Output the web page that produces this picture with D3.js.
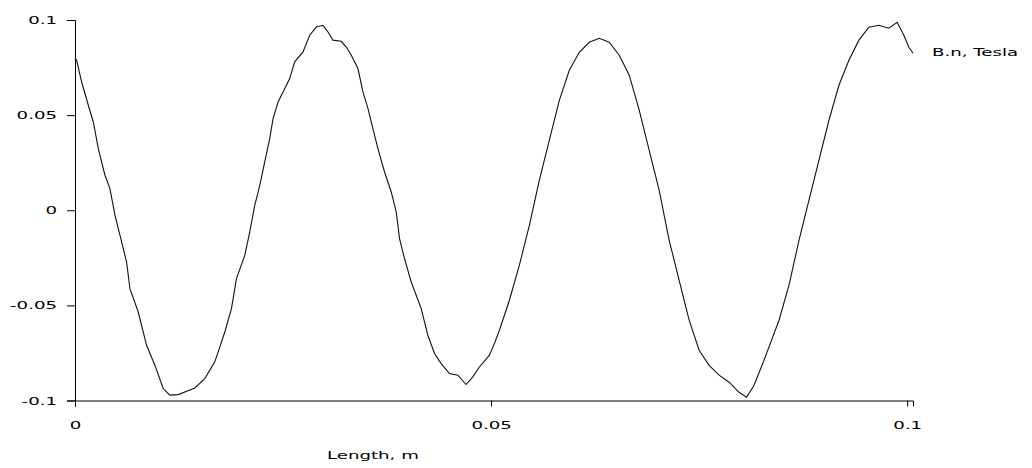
<!DOCTYPE html>
<html>
<head>
<meta charset="utf-8">
<script src="https://cdn.jsdelivr.net/npm/d3@7"></script>
<style>
  body { margin: 0; background: #fff; }
  text { font-family: "DejaVu Sans", sans-serif; font-size: 11px; fill: #000; }
</style>
</head>
<body>
<div id="chart"></div>
<script>
// Position along the part, m
const lengthM = [
  0.0000, 0.0002, 0.0008, 0.0016, 0.0022, 0.0028, 0.0036, 0.0042, 0.0048, 0.0054,
  0.0062, 0.0066, 0.0076, 0.0086, 0.0096, 0.0106, 0.0114, 0.0124, 0.0132, 0.0144,
  0.0156, 0.0168, 0.0180, 0.0188, 0.0194, 0.0204, 0.0210, 0.0216, 0.0222, 0.0228,
  0.0234, 0.0238, 0.0244, 0.0250, 0.0258, 0.0264, 0.0274, 0.0282, 0.0290, 0.0298,
  0.0304, 0.0310, 0.0320, 0.0326, 0.0332, 0.0340, 0.0346, 0.0352, 0.0358, 0.0364,
  0.0372, 0.0380, 0.0386, 0.0390, 0.0396, 0.0404, 0.0416, 0.0424, 0.0432, 0.0440,
  0.0450, 0.0460, 0.0470, 0.0478, 0.0486, 0.0498, 0.0504, 0.0510, 0.0522, 0.0534,
  0.0546, 0.0558, 0.0570, 0.0582, 0.0594, 0.0606, 0.0618, 0.0630, 0.0642, 0.0654,
  0.0666, 0.0678, 0.0690, 0.0702, 0.0714, 0.0726, 0.0738, 0.0750, 0.0762, 0.0774,
  0.0786, 0.0798, 0.0807, 0.0816, 0.0828, 0.0846, 0.0858, 0.0870, 0.0882, 0.0894,
  0.0906, 0.0918, 0.0930, 0.0942, 0.0954, 0.0966, 0.0978, 0.0988, 0.0996, 0.1002,
  0.1007
];

// Normal flux density B.n, Tesla
const bNormal = [
  0.0800, 0.0788, 0.0674, 0.0552, 0.0464, 0.0324, 0.0184, 0.0114, -0.0026, -0.0131,
  -0.0272, -0.0412, -0.0535, -0.0710, -0.0815, -0.0937, -0.0972, -0.0969, -0.0955, -0.0934,
  -0.0885, -0.0797, -0.0640, -0.0517, -0.0359, -0.0237, -0.0114, 0.0026, 0.0131, 0.0254,
  0.0377, 0.0482, 0.0569, 0.0622, 0.0692, 0.0780, 0.0832, 0.0920, 0.0963, 0.0972,
  0.0937, 0.0894, 0.0888, 0.0858, 0.0815, 0.0745, 0.0622, 0.0535, 0.0429, 0.0324,
  0.0201, 0.0096, -0.0009, -0.0149, -0.0254, -0.0377, -0.0517, -0.0657, -0.0753, -0.0806,
  -0.0858, -0.0867, -0.0916, -0.0876, -0.0824, -0.0762, -0.0701, -0.0631, -0.0473, -0.0289,
  -0.0079, 0.0158, 0.0368, 0.0578, 0.0736, 0.0830, 0.0883, 0.0904, 0.0883, 0.0815,
  0.0710, 0.0526, 0.0315, 0.0105, -0.0158, -0.0368, -0.0578, -0.0736, -0.0815, -0.0867,
  -0.0904, -0.0957, -0.0983, -0.0920, -0.0788, -0.0578, -0.0394, -0.0158, 0.0053, 0.0263,
  0.0473, 0.0657, 0.0788, 0.0894, 0.0962, 0.0972, 0.0957, 0.0988, 0.0920, 0.0857,
  0.0825
];

const xTicks = [0, 0.05, 0.1];
const yTicks = [0.1, 0.05, 0, -0.05, -0.1];
const xTitle = 'Length, m';
const seriesName = 'B.n, Tesla';

// Set the dimensions of the SVG container
const width = 1032;
const height = 468;
const stretch = 1.65; // the original font is very wide

const svg = d3.select('#chart')
  .append('svg')
  .attr('width', width)
  .attr('height', height);

// Create scales
const xScale = d3.scaleLinear()
  .domain([0, d3.max(lengthM)])
  .range([75, 913]);

const yScale = d3.scaleLinear()
  .domain([-0.1, 0.1])
  .range([400.5, 20]);

// Create x-axis
svg.append('g')
  .attr('transform', `translate(0, ${yScale(-0.1)})`)
  .call(d3.axisBottom(xScale)
    .tickValues(xTicks)
    .tickFormat(d => String(d))
    .tickSizeOuter(0)
    .tickSize(6)
    .tickPadding(15));

// Create y-axis
svg.append('g')
  .attr('transform', `translate(${xScale(0)}, 0)`)
  .call(d3.axisLeft(yScale)
    .tickValues(yTicks)
    .tickFormat(d => String(d))
    .tickSizeOuter(0)
    .tickSize(8)
    .tickPadding(10));

svg.selectAll('.domain, .tick line').attr('stroke', '#000');
svg.selectAll('.tick text').attr('font-family', null).attr('font-size', null);

// The curve
const points = lengthM.map((x, i) => [x, bNormal[i]]);
const line = d3.line()
  .x(d => xScale(d[0]))
  .y(d => yScale(d[1]));

svg.append('path')
  .datum(points)
  .attr('fill', 'none')
  .attr('stroke', '#111')
  .attr('stroke-width', 1.1)
  .attr('d', line);

// Labels
svg.append('text')
  .attr('x', 327)
  .attr('y', 459)
  .text(xTitle);

const last = points[points.length - 1];
svg.append('text')
  .attr('x', xScale(last[0]) + 19)
  .attr('y', yScale(last[1]) - 1)
  .attr('dy', '0.32em')
  .text(seriesName);

// Widen all text to match the original font
svg.selectAll('text').each(function () {
  const w = this.getComputedTextLength();
  d3.select(this)
    .attr('textLength', w * stretch)
    .attr('lengthAdjust', 'spacingAndGlyphs');
});
</script>
</body>
</html>
